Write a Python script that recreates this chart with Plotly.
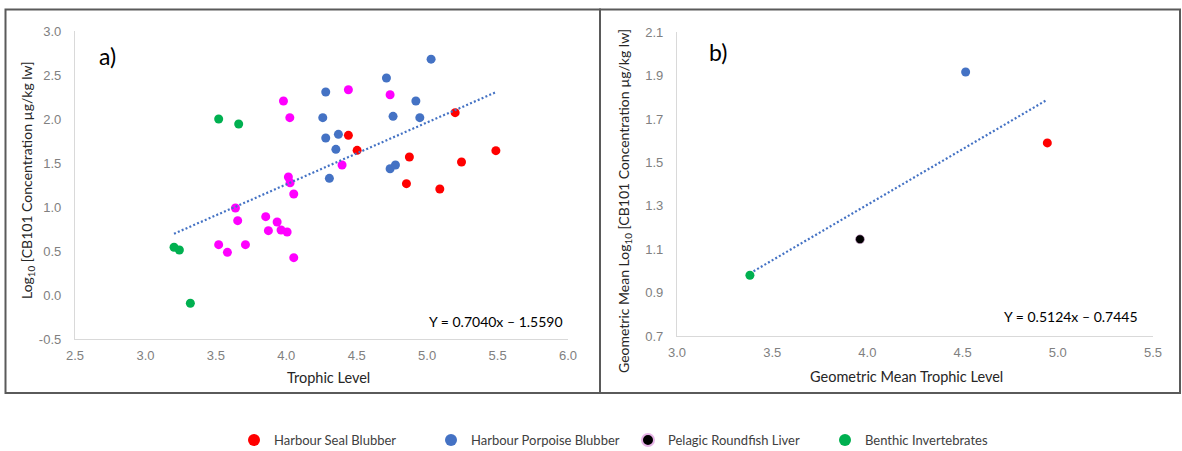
import plotly.graph_objects as go

W, H = 1182, 451

# ---- panel a) individual samples: trophic level vs log10 CB101 (µg/kg lw)
seal_tl = [4.441, 4.503, 5.199, 4.874, 5.488, 5.244, 4.853, 5.090]
seal_log = [1.814, 1.644, 2.072, 1.568, 1.640, 1.511, 1.265, 1.205]

porpoise_tl = [5.028, 4.711, 4.280, 4.920, 4.259, 4.758, 4.948, 4.280, 4.370,
               4.352, 4.737, 4.775, 4.306]
porpoise_log = [2.680, 2.466, 2.307, 2.205, 2.015, 2.030, 2.015, 1.784, 1.826,
                1.655, 1.435, 1.477, 1.326]

roundfish_tl = [4.441, 4.737, 3.980, 4.025, 4.396, 4.015, 4.027, 4.053, 3.639,
                3.655, 3.854, 3.935, 3.873, 3.963, 4.006, 3.520, 3.582, 3.710, 4.053]
roundfish_log = [2.333, 2.276, 2.205, 2.015, 1.477, 1.341, 1.276, 1.148, 0.989,
                 0.845, 0.890, 0.830, 0.731, 0.739, 0.716, 0.572, 0.485, 0.572, 0.424]

benthic_tl = [3.520, 3.662, 3.203, 3.241, 3.319]
benthic_log = [2.000, 1.943, 0.542, 0.511, -0.094]

fit_a = (0.7040, -1.5590)

# ---- panel b) geometric means per group
gm_names = ["Harbour Seal Blubber", "Harbour Porpoise Blubber",
            "Pelagic Roundfish Liver", "Benthic Invertebrates"]
gm_tl = [4.945, 4.516, 3.961, 3.383]
gm_log = [1.590, 1.917, 1.146, 0.980]

fit_b = (0.5124, -0.7445)

# tick labels
xa_ticks = [2.5, 3.0, 3.5, 4.0, 4.5, 5.0, 5.5, 6.0]
ya_ticks = [-0.5, 0.0, 0.5, 1.0, 1.5, 2.0, 2.5, 3.0]
xb_ticks = [3.0, 3.5, 4.0, 4.5, 5.0, 5.5]
yb_ticks = [0.7, 0.9, 1.1, 1.3, 1.5, 1.7, 1.9, 2.1]

C_SEAL = "#FF0000"
C_PORP = "#4472C4"
C_FISH = "#FF00FF"
C_FISH_GM = "#000000"
C_BENT = "#00B050"
TREND = "#4472C4"

TXT_FONT = "Lato"
TICK_FONT = dict(family="Liberation Sans", size=13, color="#808080")


def px_x(p):
    return p / W


def px_y(p):
    return 1 - p / H


fig = go.Figure()

MS = 9
groups_a = [
    ("Harbour Seal Blubber", seal_tl, seal_log, C_SEAL, True, 1),
    ("Harbour Porpoise Blubber", porpoise_tl, porpoise_log, C_PORP, True, 2),
    ("Pelagic Roundfish", roundfish_tl, roundfish_log, C_FISH, False, 10),
    ("Benthic Invertebrates", benthic_tl, benthic_log, C_BENT, True, 4),
]
for name, xs, ys, col, show, rank in groups_a:
    fig.add_trace(go.Scatter(
        x=xs, y=ys, mode="markers", name=name, showlegend=show,
        legendrank=rank,
        marker=dict(size=MS, color=col, line=dict(width=0)),
        xaxis="x", yaxis="y"))

all_a = seal_tl + porpoise_tl + roundfish_tl + benthic_tl
xa0, xa1 = min(all_a), max(all_a)
fig.add_trace(go.Scatter(
    x=[xa0, xa1], y=[fit_a[0] * xa0 + fit_a[1], fit_a[0] * xa1 + fit_a[1]],
    mode="lines", showlegend=False,
    line=dict(color=TREND, width=2.2, dash="2px,2.2px"),
    xaxis="x", yaxis="y"))

# panel b
xb0, xb1 = min(gm_tl), max(gm_tl)
fig.add_trace(go.Scatter(
    x=[xb0, xb1], y=[fit_b[0] * xb0 + fit_b[1], fit_b[0] * xb1 + fit_b[1]],
    mode="lines", showlegend=False,
    line=dict(color=TREND, width=2.2, dash="2px,2.2px"),
    xaxis="x2", yaxis="y2"))

gm_cols = [C_SEAL, C_PORP, C_FISH_GM, C_BENT]
for i, name in enumerate(gm_names):
    is_fish = name.startswith("Pelagic")
    fig.add_trace(go.Scatter(
        x=[gm_tl[i]], y=[gm_log[i]], mode="markers", name=name,
        showlegend=is_fish, legendrank=3,
        marker=dict(size=MS, color=gm_cols[i],
                    line=dict(width=0.6 if is_fish else 0, color="#E6B3E6")),
        xaxis="x2", yaxis="y2"))


def fmt(v):
    return f"{v:.1f}"


axis_common = dict(showgrid=False, zeroline=False, showline=True,
                   linecolor="#D9D9D9", linewidth=1.3, ticks="",
                   tickfont=TICK_FONT, automargin=False)

fig.update_layout(
    width=W, height=H,
    margin=dict(l=0, r=0, t=0, b=0, autoexpand=False),
    paper_bgcolor="white", plot_bgcolor="white",
    showlegend=True,
    xaxis=dict(domain=[px_x(75), px_x(568)], range=[2.5, 6.0],
               tickvals=xa_ticks, ticktext=[fmt(v) for v in xa_ticks],
               ticklabelstandoff=4, anchor="y", **axis_common),
    yaxis=dict(domain=[px_y(339), px_y(31)], range=[-0.5, 3.0],
               tickvals=ya_ticks, ticktext=[fmt(v) for v in ya_ticks],
               ticklabelstandoff=10, anchor="x", **axis_common),
    xaxis2=dict(domain=[px_x(677), px_x(1153)], range=[3.0, 5.5],
                tickvals=xb_ticks, ticktext=[fmt(v) for v in xb_ticks],
                ticklabelstandoff=4, anchor="y2", **axis_common),
    yaxis2=dict(domain=[px_y(336), px_y(32.3)], range=[0.7, 2.1],
                tickvals=yb_ticks, ticktext=[fmt(v) for v in yb_ticks],
                ticklabelstandoff=10, anchor="x2", **axis_common),
    legend=dict(orientation="h", x=px_x(234), xanchor="left",
                y=px_y(440), yanchor="middle",
                entrywidth=152, entrywidthmode="pixels",
                itemsizing="constant",
                font=dict(family=TXT_FONT, size=13, color="#404040"),
                bgcolor="rgba(0,0,0,0)"),
)

ann = []


def text(x, y, s, size, color="#000000", angle=0, xanchor="center"):
    ann.append(dict(x=px_x(x), y=px_y(y), xref="paper", yref="paper",
                    text=s, showarrow=False, textangle=angle,
                    xanchor=xanchor, yanchor="middle",
                    font=dict(family=TXT_FONT, size=size, color=color)))


text(107, 56, "a)", 23)
text(718, 52, "b)", 23)
text(27, 181, "Log<sub>10</sub> [CB101 Concentration µg/kg lw]", 14,
     "#262626", angle=-90)
text(624, 201, "Geometric Mean Log<sub>10</sub> [CB101 Concentration µg/kg lw]", 14,
     "#262626", angle=-90)
text(328, 377, "Trophic Level", 14.5, "#262626")
text(906, 376, "Geometric Mean Trophic Level", 14.5, "#262626")
text(495.5, 321.7, f"Y = {fit_a[0]:.4f}x – {abs(fit_a[1]):.4f}", 14)
text(1071, 316.7, f"Y = {fit_b[0]:.4f}x – {abs(fit_b[1]):.4f}", 14)

fig.update_layout(annotations=ann)

# panel frames
frame = dict(type="rect", xref="paper", yref="paper",
             line=dict(color="#5A5A5A", width=2), fillcolor="rgba(0,0,0,0)")
fig.update_layout(shapes=[
    dict(frame, x0=px_x(5.5), x1=px_x(600), y0=px_y(393), y1=px_y(9.5)),
    dict(frame, x0=px_x(600), x1=px_x(1180), y0=px_y(393), y1=px_y(9.5)),
])

fig.write_html("out.html")
